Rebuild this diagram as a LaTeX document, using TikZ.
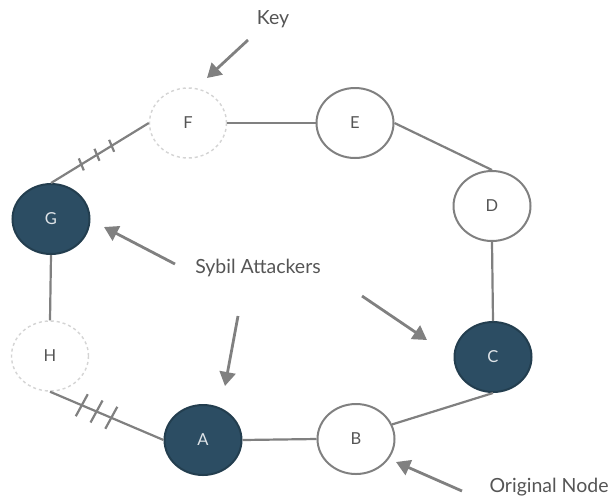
\documentclass[tikz,border=0pt]{standalone}
\usepackage{fontspec}
\setmainfont{Lato}
\usetikzlibrary{shapes.geometric,arrows.meta,calc}
\definecolor{sybil}{HTML}{2C4D63}
\definecolor{edgec}{HTML}{808080}
\definecolor{dashc}{HTML}{D4D4D4}
\definecolor{txtc}{HTML}{555555}
\tikzset{
  peer/.style={ellipse, draw=edgec, line width=2pt, fill=white, minimum width=77pt, minimum height=70pt, inner sep=0pt, font=\fontsize{16.5}{19}\selectfont, text=txtc},
  ghost/.style={peer, draw=dashc, dashed, line width=1.4pt},
  attacker/.style={peer, draw=sybil!80!black, fill=sybil, text=white!85!sybil},
  link/.style={draw=edgec, line width=2.2pt},
  pointer/.style={draw=edgec, line width=2.8pt, -{Triangle[length=14pt,width=16pt]}},
  lbl/.style={font=\fontsize{19.5}{22}\selectfont, text=txtc},
}
\begin{document}
\begin{tikzpicture}[x=1pt,y=-1pt]
\useasboundingbox (0,0) rectangle (609,499);
\node[ghost] (F) at (188,123) {F};
\node[peer] (E) at (355,123) {E};
\node[peer] (D) at (492,206) {D};
\node[attacker] (C) at (493,357) {C};
\node[peer] (B) at (356,439) {B};
\node[attacker] (A) at (203,440) {A};
\node[ghost] (H) at (50,356) {H};
\node[attacker] (G) at (51,219) {G};

\draw[link] (F.west) -- (G.north);
\draw[link] (F.east) -- (E.west);
\draw[link] (E.east) -- (D.north);
\draw[link] (D.south) -- (C.north);
\draw[link] (C.south) -- (B.22);
\draw[link] (B.west) -- (A.east);
\draw[link] (A.west) -- (H.south);
\draw[link] (H.north) -- (G.south);

% ticks on F--G
\path (F.west) -- (G.north)
  coordinate[pos=0.38] (fg1) coordinate[pos=0.53] (fg2) coordinate[pos=0.69] (fg3);
\foreach \t in {fg1,fg2,fg3}
  \draw[link] ($(\t)+(2.5,6)$) -- ($(\t)+(-2.5,-6)$);
% ticks on A--H
\path (A.west) -- (H.south)
  coordinate[pos=0.46] (ah1) coordinate[pos=0.59] (ah2) coordinate[pos=0.72] (ah3);
\foreach \t in {ah1,ah2,ah3}
  \draw[link] ($(\t)+(-6,11)$) -- ($(\t)+(6,-11)$);

\node[lbl] (key) at (273,19) {Key};
\node[lbl] (sybil) at (258,268) {Sybil Attackers};
\node[lbl, anchor=west] (orig) at (486,487) {Original Node};

\coordinate (k0) at (248,40);
\coordinate (k1) at (207,78);
\draw[pointer] (k0) -- (k1);
\coordinate (s0) at (175,264);
\coordinate (s1) at (104,227);
\draw[pointer] (s0) -- (s1);
\coordinate (s2) at (238,316);
\coordinate (s3) at (225,386);
\draw[pointer] (s2) -- (s3);
\coordinate (s4) at (362,296);
\coordinate (s5) at (427,340);
\draw[pointer] (s4) -- (s5);
\coordinate (o0) at (462,491);
\coordinate (o1) at (396,462);
\draw[pointer] (o0) -- (o1);
\end{tikzpicture}
\end{document}
